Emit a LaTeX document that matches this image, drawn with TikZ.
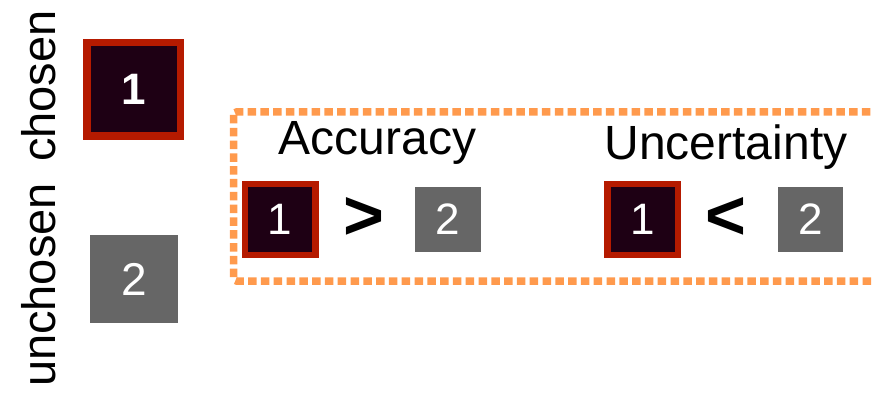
\documentclass[tikz,border=0pt]{standalone}
\usepackage{fontspec}
\setmainfont{Liberation Sans}
\definecolor{selred}{HTML}{B51A00}
\definecolor{darkfill}{HTML}{1E0014}
\definecolor{grayfill}{HTML}{666666}
\definecolor{dashorange}{HTML}{FF9A4D}
\begin{document}
\begin{tikzpicture}[x=1pt,y=-1pt,
  chosenbox/.style={draw=selred,fill=darkfill,text=white,inner sep=0pt},
  grayboxs/.style={fill=grayfill,text=white,inner sep=0pt},
  lbl/.style={font=\fontsize{48}{50}\selectfont,anchor=base,inner sep=0pt},
  sidelbl/.style={font=\fontsize{47}{49}\selectfont,anchor=base,rotate=90,inner sep=0pt},
  digit/.style={font=\fontsize{44}{46}\selectfont},
  cmp/.style={font=\fontsize{70}{72}\selectfont\bfseries,inner sep=0pt}
]
\useasboundingbox (0,0) rectangle (874,395);
\begin{scope}
\clip (0,0) rectangle (874,395);
\draw[dashorange,line width=7.5pt,dash pattern=on 8.5pt off 4.3pt,rounded corners=3pt] (233.5,112) rectangle (905,281);
\end{scope}
\node[sidelbl] (lchosen) at (55,86) {chosen};
\node[sidelbl] (lunchosen) at (55,285) {unchosen};
\node[chosenbox,line width=7.5pt,minimum size=93.5pt,digit,font=\fontsize{44}{46}\selectfont\bfseries] (c1) at (133.5,89.5) {1};
\node[grayboxs,minimum size=88pt,font=\fontsize{46}{48}\selectfont] (u2) at (134,279) {2};
\node[lbl] (acc) at (377.5,155) {Accuracy};
\node[lbl] (unc) at (726,160) {Uncertainty};
\node[chosenbox,line width=6.5pt,minimum size=70.5pt,digit] (a1) at (280,219.5) {1};
\node[cmp] (gt) at (363.5,218) {>};
\node[grayboxs,minimum size=65.5pt,digit] (a2) at (448,219.5) {2};
\node[chosenbox,line width=6.5pt,minimum size=70.5pt,digit] (b1) at (642.5,219.5) {1};
\node[cmp] (lt) at (726,218) {<};
\node[grayboxs,minimum size=65.5pt,digit] (b2) at (810.5,219.5) {2};
\end{tikzpicture}
\end{document}
